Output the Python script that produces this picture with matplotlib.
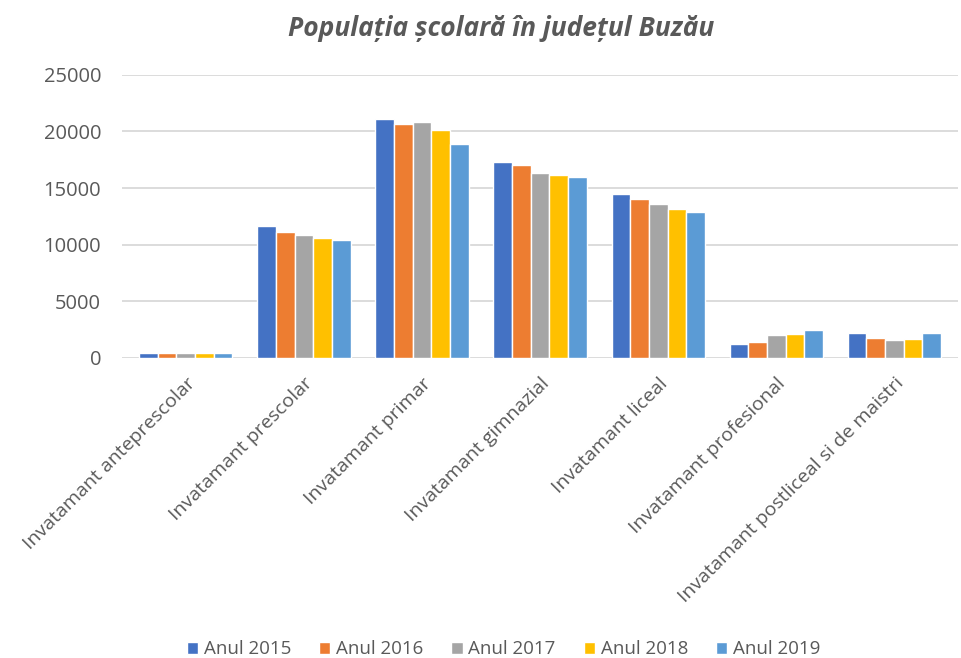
import matplotlib.pyplot as plt
import numpy as np

plt.rcParams['font.family'] = ['Open Sans', 'DejaVu Sans']

categories = ['Invatamant anteprescolar', 'Invatamant prescolar',
              'Invatamant primar', 'Invatamant gimnazial',
              'Invatamant liceal', 'Invatamant profesional',
              'Invatamant postliceal si de maistri']
years = ['Anul 2015', 'Anul 2016', 'Anul 2017', 'Anul 2018', 'Anul 2019']
colors = ['#4472C4', '#ED7D31', '#A5A5A5', '#FFC000', '#5B9BD5']

an_2015 = [420, 11650, 21100, 17260, 14430, 1210, 2160]
an_2016 = [420, 11150, 20680, 17030, 14020, 1390, 1740]
an_2017 = [410, 10890, 20800, 16320, 13600, 1980, 1570]
an_2018 = [420, 10570, 20120, 16140, 13190, 2120, 1680]
an_2019 = [400, 10420, 18910, 15990, 12870, 2420, 2190]
series = [an_2015, an_2016, an_2017, an_2018, an_2019]

fig = plt.figure(figsize=(9.61, 6.58), dpi=100)
ax = fig.add_axes([0.127, 0.4564, 0.870, 0.4297])

x = np.arange(len(categories))
slot = 0.158
for i, (vals, lab, col) in enumerate(zip(series, years, colors)):
    ax.bar(x + (i - 2) * slot, vals, width=slot, color=col, label=lab,
           edgecolor='white', linewidth=1.0, zorder=3)

ax.set_xlim(-0.54, len(categories) - 0.46)
ax.set_ylim(0, 25000)
ax.set_yticks(range(0, 25001, 5000))
ax.grid(axis='y', color='#D9D9D9', linewidth=1.3, zorder=0)
for s in ax.spines.values():
    s.set_visible(False)
ax.tick_params(axis='y', length=0, pad=15, labelsize=14.5, labelcolor='#595959')
ax.tick_params(axis='x', length=0, pad=12)
ax.set_xticks(x)
ax.set_xticklabels(categories, rotation=45, ha='right', rotation_mode='anchor',
                   fontsize=14, color='#595959')

fig.text(0.521, 0.957, 'Populația școlară în județul Buzău', ha='center',
         va='center', fontsize=19, fontweight='bold', style='italic',
         color='#595959')

fig.legend(loc='center', bbox_to_anchor=(0.524, 0.013), ncol=5, frameon=False,
           fontsize=13.5, labelcolor='#595959', handlelength=0.6,
           handleheight=0.6, handletextpad=0.3, columnspacing=1.5)

fig.savefig('out.png', dpi=100)
